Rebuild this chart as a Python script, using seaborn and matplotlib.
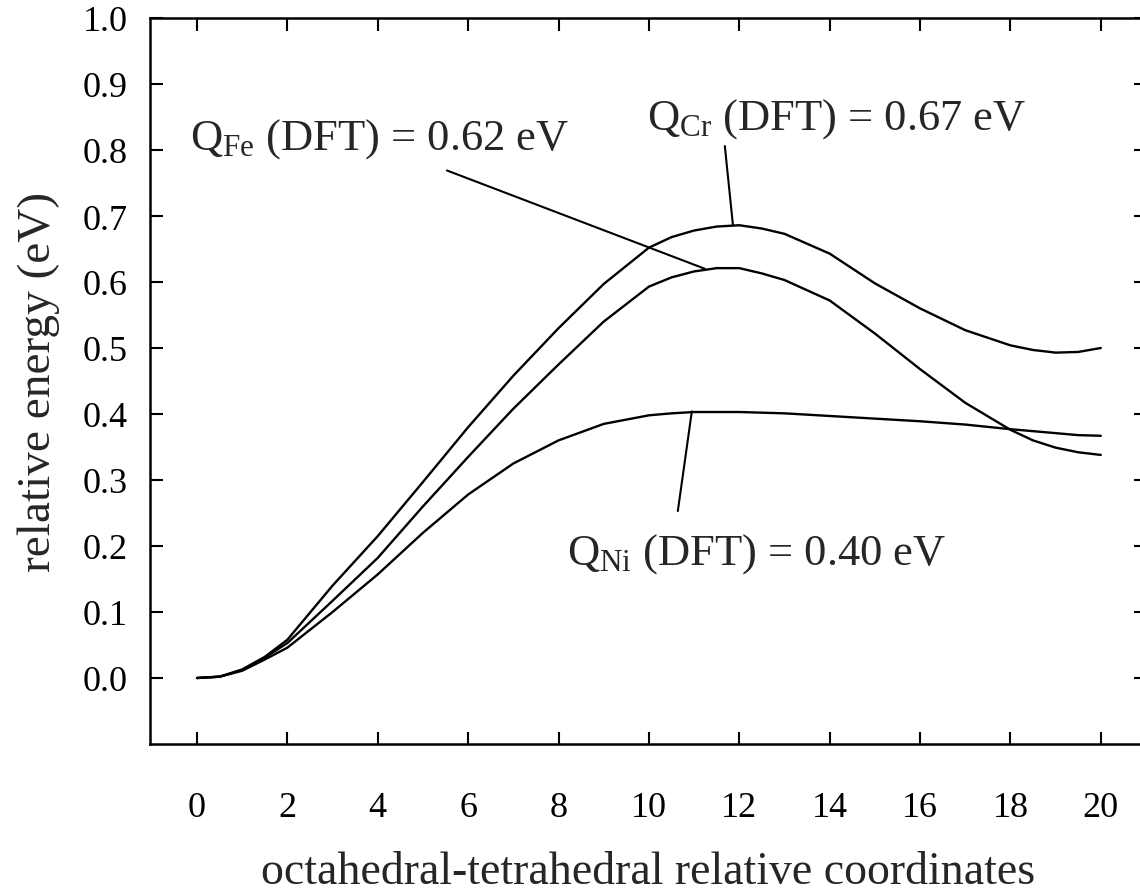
import numpy as np
import pandas as pd
import matplotlib
matplotlib.use("Agg")
import matplotlib.pyplot as plt
import seaborn as sns

# ---- data ----
coord = [0, 0.5, 1, 1.5, 2, 3, 4, 5, 6, 7, 8, 9, 10, 10.5, 11, 11.5, 12, 12.5, 13,
         14, 15, 16, 17, 18, 18.5, 19, 19.5, 20]
energy_cr = [0, 0.002, 0.013, 0.032, 0.058, 0.14, 0.215, 0.297, 0.38, 0.458, 0.53, 0.597,
             0.652, 0.668, 0.678, 0.684, 0.686, 0.681, 0.673, 0.643, 0.598, 0.560, 0.527,
             0.504, 0.497, 0.493, 0.494, 0.50]
energy_fe = [0, 0.002, 0.012, 0.031, 0.053, 0.117, 0.182, 0.26, 0.335, 0.408, 0.475, 0.54,
             0.593, 0.607, 0.616, 0.621, 0.621, 0.613, 0.603, 0.572, 0.522, 0.468, 0.417,
             0.376, 0.360, 0.349, 0.342, 0.338]
energy_ni = [0, 0.002, 0.011, 0.028, 0.046, 0.10, 0.157, 0.22, 0.278, 0.325, 0.36, 0.385,
             0.398, 0.401, 0.403, 0.403, 0.403, 0.402, 0.401, 0.397, 0.393, 0.389, 0.384,
             0.377, 0.374, 0.371, 0.368, 0.367]
series_names = ["Cr", "Fe", "Ni"]
x_ticks = [0, 2, 4, 6, 8, 10, 12, 14, 16, 18, 20]
y_ticks = [0.0, 0.1, 0.2, 0.3, 0.4, 0.5, 0.6, 0.7, 0.8, 0.9, 1.0]
labels = {
    "Fe": r"Q$_{\mathrm{Fe}}$ (DFT) = 0.62 eV",
    "Cr": r"Q$_{\mathrm{Cr}}$ (DFT) = 0.67 eV",
    "Ni": r"Q$_{\mathrm{Ni}}$ (DFT) = 0.40 eV",
}

df = pd.DataFrame({
    "coord": coord * 3,
    "energy": energy_cr + energy_fe + energy_ni,
    "element": sum([[n] * len(coord) for n in series_names], []),
})

sns.set_theme(style="ticks")
plt.rcParams["font.family"] = ["Liberation Serif", "DejaVu Serif"]
plt.rcParams["mathtext.fontset"] = "custom"
plt.rcParams["mathtext.rm"] = "Liberation Serif"
plt.rcParams["mathtext.it"] = "Liberation Serif:italic"

fig = plt.figure(figsize=(11.4, 8.95), dpi=100)
ax = fig.add_axes([150 / 1140, 150 / 895, (1146 - 150) / 1140, (876 - 150) / 895])

sns.lineplot(data=df, x="coord", y="energy", hue="element", units="element",
             estimator=None, sort=False, palette=["black"] * 3, linewidth=1.7,
             legend=False, ax=ax)
for ln in ax.lines:
    ln.set_solid_joinstyle("round")
    ln.set_solid_capstyle("round")

ax.set_xlim(-1.04, 21)
ax.set_ylim(-0.1, 1.0)
ax.set_xticks(x_ticks)
ax.set_xticklabels([str(t) for t in x_ticks])
ax.set_yticks(y_ticks)
ax.set_yticklabels([f"{t:.1f}" for t in y_ticks])

for s in ax.spines.values():
    s.set_linewidth(1.8)
    s.set_color("black")
    s.set_visible(True)

ax.tick_params(axis="both", direction="in", length=9, width=1.5, top=True, right=True,
               labelsize=26, colors="black")
ax.tick_params(axis="x", pad=34)
ax.tick_params(axis="y", pad=16)

ax.set_xlabel("octahedral-tetrahedral relative coordinates", fontsize=33, labelpad=19)
ax.set_ylabel("relative energy (eV)", fontsize=34, labelpad=16)

line_kw = dict(arrowstyle="-", lw=1.5, color="black", shrinkA=0, shrinkB=0)
fs = 32
ax.text(-0.155, 0.803, labels["Fe"], fontsize=fs, ha="left", va="baseline")
ax.annotate("", xy=(11.24, 0.62), xytext=(5.53, 0.769), arrowprops=line_kw)
ax.text(9.96, 0.833, labels["Cr"], fontsize=fs, ha="left", va="baseline")
ax.annotate("", xy=(11.86, 0.686), xytext=(11.68, 0.806), arrowprops=line_kw)
ax.text(8.19, 0.173, labels["Ni"], fontsize=fs, ha="left", va="baseline")
ax.annotate("", xy=(10.95, 0.404), xytext=(10.64, 0.253), arrowprops=line_kw)

fig.savefig("out.png", dpi=100)
